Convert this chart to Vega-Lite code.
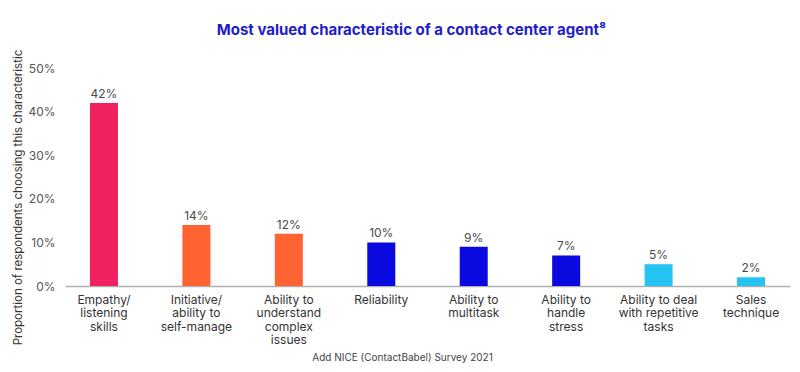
{
  "$schema": "https://vega.github.io/schema/vega-lite/v6.json",
  "autosize": {"type": "none"},
  "width": 725,
  "height": 218,
  "padding": {"left": 65, "top": 68, "right": 10, "bottom": 86},
  "background": "white",
  "config": {
    "font": "Inter",
    "view": {"stroke": null}
  },
  "title": {
    "text": "Most valued characteristic of a contact center agent⁸",
    "frame": "group",
    "anchor": "middle",
    "dx": -16,
    "offset": 11,
    "fontSize": 15,
    "fontWeight": "bold",
    "color": "#1e1ec8",
    "font": "Inter"
  },
  "data": {
    "values": [
      {"characteristic": "Empathy/|listening|skills", "share": 0.42, "group": "top"},
      {"characteristic": "Initiative/|ability to|self-manage", "share": 0.14, "group": "second"},
      {"characteristic": "Ability to|understand|complex|issues", "share": 0.12, "group": "second"},
      {"characteristic": "Reliability", "share": 0.10, "group": "middle"},
      {"characteristic": "Ability to|multitask", "share": 0.09, "group": "middle"},
      {"characteristic": "Ability to|handle|stress", "share": 0.07, "group": "middle"},
      {"characteristic": "Ability to deal|with repetitive|tasks", "share": 0.05, "group": "low"},
      {"characteristic": "Sales|technique", "share": 0.02, "group": "low"}
    ]
  },
  "encoding": {
    "x": {
      "field": "characteristic",
      "type": "nominal",
      "sort": null,
      "scale": {"paddingInner": 0.697, "paddingOuter": 0.27},
      "axis": {
        "title": "Add NICE (ContactBabel) Survey 2021",
        "titleX": 337,
        "titleY": 66,
        "titleFontSize": 10,
        "titleFontWeight": "normal",
        "titleColor": "#444444",
        "titleFont": "Inter",
        "labelExpr": "split(datum.label, '|')",
        "labelAngle": 0,
        "labelFontSize": 12,
        "labelLineHeight": 13.5,
        "labelColor": "#333333",
        "labelPadding": 8,
        "labelBaseline": "top",
        "ticks": false,
        "domainColor": "#b0b0b0",
        "domainWidth": 1.5
      }
    },
    "y": {
      "field": "share",
      "type": "quantitative",
      "scale": {"domain": [0, 0.5]},
      "axis": {
        "title": "Proportion of respondents choosing this characteristic",
        "titleX": -42,
        "titleY": 129,
        "titleFontSize": 11.5,
        "titleFontWeight": "normal",
        "titleColor": "#333333",
        "titleFont": "Inter",
        "format": ".0%",
        "values": [0, 0.1, 0.2, 0.3, 0.4, 0.5],
        "labelOverlap": false,
        "labelFlush": false,
        "labelFontSize": 12,
        "labelColor": "#555555",
        "labelPadding": 10,
        "ticks": false,
        "domain": false,
        "grid": false
      }
    }
  },
  "layer": [
    {
      "mark": {"type": "bar"},
      "encoding": {
        "color": {
          "field": "group",
          "type": "nominal",
          "scale": {
            "domain": ["top", "second", "middle", "low"],
            "range": ["#f0215f", "#ff6331", "#0a0ae0", "#25c3f2"]
          },
          "legend": null
        }
      }
    },
    {
      "mark": {"type": "text", "baseline": "bottom", "dy": -2, "fontSize": 12, "color": "#4a4a4a"},
      "encoding": {
        "text": {"field": "share", "type": "quantitative", "format": ".0%"}
      }
    }
  ]
}
